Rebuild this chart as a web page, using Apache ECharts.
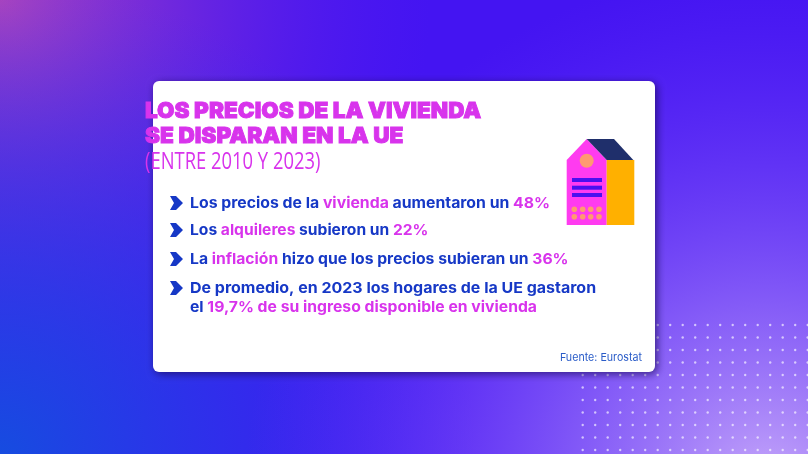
<!DOCTYPE html>
<html><head><meta charset="utf-8">
<style>html,body{margin:0;padding:0;background:#4414f2}#c{width:808px;height:454px}</style>
<script src="https://cdn.jsdelivr.net/npm/echarts@6/dist/echarts.min.js"></script>
</head><body><div id="c"></div>
<script>
var titleLines = ['LOS PRECIOS DE LA VIVIENDA', 'SE DISPARAN EN LA UE'];
var subtitle = '(ENTRE 2010 Y 2023)';
var source = 'Fuente: Eurostat';
var bullet1 = [['Los precios de la ','b'],['vivienda','m'],[' aumentaron un ','b'],['48%','m']];
var bullet2 = [['Los ','b'],['alquileres','m'],[' subieron un ','b'],['22%','m']];
var bullet3 = [['La ','b'],['inflación','m'],[' hizo que los precios subieran un ','b'],['36%','m']];
var bullet4a = [['De promedio, en 2023 los hogares de la UE gastaron','b']];
var bullet4b = [['el ','b'],['19,7% de su ingreso disponible en vivienda','m']];
var dotCols = [0,1,2,3,4,5,6,7,8,9,10,11,12,13,14,15,16,17,18];
var dotRows = [0,1,2,3,4,5,6,7,8,9,10];

var BLUE='#1638c6', MAG='#d833ec';
var FONT='Inter';
function rich(parts){
  return parts.map(function(p){return '{'+p[1]+'|'+p[0].replace(/ /g,'\u00a0')+'}';}).join('');
}
function textEl(parts,x,y,sx){
  var s={fontFamily:FONT,fontSize:15,fontWeight:700,lineHeight:18};
  return {type:'text',x:x,y:y,scaleX:sx,z:6,style:{text:rich(parts),x:0,y:0,verticalAlign:'middle',
    rich:{b:Object.assign({fill:BLUE},s),m:Object.assign({fill:MAG},s)}}};
}
function chevron(cy){
  return {type:'polygon',z:6,shape:{points:[[170,cy-7],[176,cy-7],[183,cy],[176,cy+7],[170,cy+7],[174,cy]]},
    style:{fill:BLUE}};
}
function rad(x,y,r,c0,c1){
  return {type:'rect',z:0,shape:{x:0,y:0,width:808,height:454},style:{fill:new echarts.graphic.RadialGradient(x,y,r,[{offset:0,color:c0},{offset:1,color:c1}])}};
}
var gfx=[
  {type:'rect',z:0,shape:{x:0,y:0,width:808,height:454},style:{fill:'#4414f2'}},
  rad(0,0,0.95,'rgba(172,68,190,1)','rgba(90,30,235,0)'),
  rad(0,1,1.05,'rgba(22,76,224,1)','rgba(40,60,235,0)'),
  rad(0.95,1.08,1.15,'rgba(200,170,250,1)','rgba(110,60,250,0)'),
  {type:'rect',z:5,shape:{x:153,y:81,width:502,height:291,r:6},
   style:{fill:'#fff',shadowBlur:8,shadowColor:'rgba(25,10,90,0.75)',shadowOffsetX:2,shadowOffsetY:2}},
  {type:'text',x:145,y:111,scaleX:1.025,z:6,style:{text:titleLines[0],x:0,y:0,verticalAlign:'middle',fontFamily:FONT,fontSize:22,fontWeight:900,fill:MAG,stroke:MAG,lineWidth:0.9}},
  {type:'text',x:145,y:136,scaleX:1.028,z:6,style:{text:titleLines[1],x:0,y:0,verticalAlign:'middle',fontFamily:FONT,fontSize:22,fontWeight:900,fill:MAG,stroke:MAG,lineWidth:0.9}},
  {type:'text',x:145,y:162,scaleX:0.8,z:6,style:{text:subtitle,x:0,y:0,verticalAlign:'middle',fontFamily:'Open Sans',fontSize:23,fontWeight:400,fill:MAG}},
  chevron(203),chevron(230),chevron(259),chevron(288),
  textEl(bullet1,190,203,1.054),textEl(bullet2,190,230,1.04),textEl(bullet3,190,259,1.047),
  textEl(bullet4a,190,288,1.065),textEl(bullet4b,190,307,1.049),
  {type:'text',x:642,y:358,z:6,scaleX:0.97,style:{text:source,x:0,y:0,align:'right',verticalAlign:'middle',fontFamily:FONT,fontSize:11,fontWeight:400,fill:'#2a5cc8'}},
  {type:'polygon',z:6,shape:{points:[[566.7,160],[586.7,139],[606.7,160],[606.7,225],[566.7,225]]},style:{fill:'#ff3bf0'}},
  {type:'polygon',z:6,shape:{points:[[586.7,139],[614,139],[633.3,160],[606.7,160]]},style:{fill:'#1f2f6b'}},
  {type:'rect',z:6,shape:{x:606.7,y:160,width:27.6,height:65},style:{fill:'#ffb000'}},
  {type:'circle',z:7,shape:{cx:586.7,cy:160.7,r:7},style:{fill:'#ff9a70'}}
];
[178,185.7,193].forEach(function(y){gfx.push({type:'rect',z:7,shape:{x:572,y:y,width:30,height:4},style:{fill:'#4a10f0'}});});
[574.3,582.7,590.7,599].forEach(function(x){[209.3,216.7].forEach(function(y){
  gfx.push({type:'circle',z:7,shape:{cx:x,cy:y,r:2.8},style:{fill:'#ff9a70'}});});});

var dots=[];
dotRows.forEach(function(r){dotCols.forEach(function(c){dots.push([c,r]);});});

var chart=echarts.init(document.getElementById('c'),null,{renderer:'canvas'});
chart.setOption({
  animation:false,
  graphic:{elements:gfx},
  grid:{left:582.7,top:325,width:225,height:125,containLabel:false},
  xAxis:{type:'value',min:0,max:18,show:false},
  yAxis:{type:'value',min:0,max:10,inverse:true,show:false},
  series:[{type:'scatter',z:1,symbolSize:2.4,silent:true,clip:false,data:dots,itemStyle:{color:'rgba(255,255,255,0.8)'}}]
});
</script></body></html>
